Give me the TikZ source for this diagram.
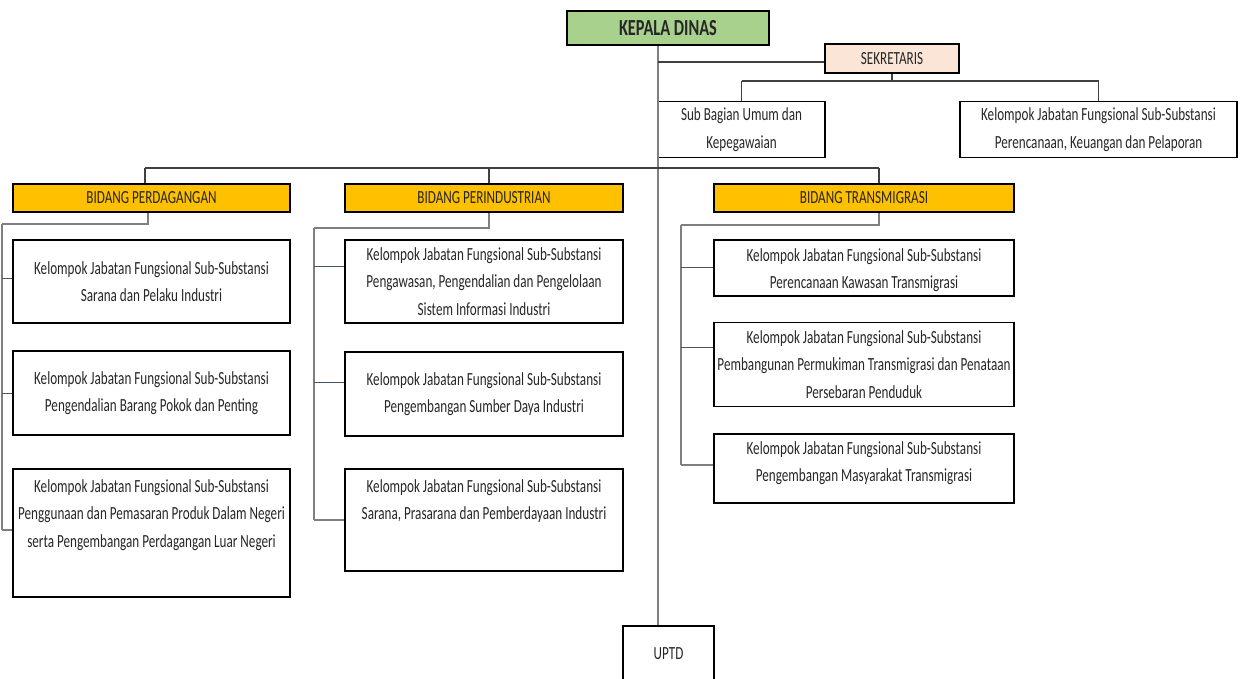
\documentclass[tikz,border=0pt]{standalone}
\usepackage{fontspec}
\setmainfont{Carlito}[FakeStretch=0.71]
\definecolor{kdgreen}{HTML}{A9D18E}
\definecolor{sekpeach}{HTML}{FBE5D6}
\definecolor{bidgold}{HTML}{FFC000}
\definecolor{txtgray}{HTML}{262626}
\definecolor{linegray}{HTML}{7F7F7F}
\definecolor{busgray}{HTML}{404040}
\definecolor{stubblue}{HTML}{44546A}
\newcommand{\fsz}{\fontsize{18.5}{27.5}\selectfont}
\begin{document}
\begin{tikzpicture}[x=1pt,y=-1pt,
  box/.style={draw=black, line width=1.8pt, inner sep=0pt, align=center, font=\fsz, text=txtgray},
  txt/.style={inner sep=0pt, align=center, font=\fsz, text=txtgray},
  bid/.style={box, fill=bidgold, minimum height=28pt},
  conn/.style={draw=linegray, line width=1.3pt},
  bus/.style={draw=busgray, line width=1.3pt},
  stub/.style={draw=stubblue, line width=1pt}]
\useasboundingbox (0,0) rectangle (1240,679);

% top
\node[box, fill=kdgreen, minimum width=202pt, minimum height=34pt,
      font=\fontsize{23}{26}\selectfont\bfseries] (kd) at (668,28) {KEPALA DINAS};
\node[box, fill=sekpeach, minimum width=134pt, minimum height=29pt] (sek) at (892,58.5) {SEKRETARIS};
\node[box, minimum width=167pt, minimum height=56pt] (sb) at (741.5,129.5) {Sub Bagian Umum dan\\Kepegawaian};
\node[box, minimum width=277pt, minimum height=56pt] (kr) at (1098.5,129.5) {Kelompok Jabatan Fungsional Sub-Substansi\\Perencanaan, Keuangan dan Pelaporan};

% bidang
\node[bid, minimum width=277pt] (bp) at (151.5,198) {BIDANG PERDAGANGAN};
\node[bid, minimum width=278pt] (bi) at (484,198) {BIDANG PERINDUSTRIAN};
\node[bid, minimum width=300pt] (bt) at (864,198) {BIDANG TRANSMIGRASI};

% perdagangan
\node[box, minimum width=277pt, minimum height=83pt] (p1) at (151.5,281.5) {Kelompok Jabatan Fungsional Sub-Substansi\\Sarana dan Pelaku Industri};
\node[box, minimum width=277pt, minimum height=84pt] (p2) at (151.5,393) {Kelompok Jabatan Fungsional Sub-Substansi\\Pengendalian Barang Pokok dan Penting};
\node[box, minimum width=277pt, minimum height=128pt] (p3) at (151.5,533) {};
\node[txt, anchor=north] (p3t) at ([yshift=-11pt]p3.north) {Kelompok Jabatan Fungsional Sub-Substansi\\Penggunaan dan Pemasaran Produk Dalam Negeri\\serta Pengembangan Perdagangan Luar Negeri};

% perindustrian
\node[box, minimum width=278pt, minimum height=83pt] (i1) at (484,281.5) {Kelompok Jabatan Fungsional Sub-Substansi\\Pengawasan, Pengendalian dan Pengelolaan\\Sistem Informasi Industri};
\node[box, minimum width=278pt, minimum height=84pt] (i2) at (484,394) {Kelompok Jabatan Fungsional Sub-Substansi\\Pengembangan Sumber Daya Industri};
\node[box, minimum width=278pt, minimum height=102pt] (i3) at (484,520) {};
\node[txt, anchor=north] (i3t) at ([yshift=-11pt]i3.north) {Kelompok Jabatan Fungsional Sub-Substansi\\Sarana, Prasarana dan Pemberdayaan Industri};

% transmigrasi
\node[box, minimum width=300pt, minimum height=56pt] (t1) at (864,268) {};
\node[txt, anchor=north] (t1t) at ([yshift=-9pt]t1.north) {Kelompok Jabatan Fungsional Sub-Substansi\\Perencanaan Kawasan Transmigrasi};
\node[box, minimum width=300pt, minimum height=84pt] (t2) at (864,364.5) {Kelompok Jabatan Fungsional Sub-Substansi\\Pembangunan Permukiman Transmigrasi dan Penataan\\Persebaran Penduduk};
\node[box, minimum width=300pt, minimum height=69pt] (t3) at (864,468.5) {};
\node[txt, anchor=north] (t3t) at ([yshift=-8pt]t3.north) {Kelompok Jabatan Fungsional Sub-Substansi\\Pengembangan Masyarakat Transmigrasi};

% UPTD
\node[box, minimum width=91pt, minimum height=56pt] (up) at (668.5,654) {UPTD};

% coordinates
\coordinate (mtop) at ([xshift=-10pt]kd.south);
\coordinate (mbot) at ([xshift=-10.5pt]up.north);
\coordinate (msek) at (658,62);
\coordinate (sekj) at (889,81);
\coordinate (busL) at (145,168);
\coordinate (busR) at (879,168);
\coordinate (pdj) at (2,224);
\coordinate (inj) at (314,228);
\coordinate (trj) at (681,225);

% main spine
\draw[conn] (mtop) -- (mbot);
\draw[bus] (msek) -- (msek -| sek.west);
\draw[bus] (sek.south) |- (sekj);
\draw[bus] (sekj -| sb.north) -| (kr.north);
\draw[bus] (sekj -| sb.north) -- (sb.north);

% bus to bidang
\draw[bus] (busL) -- (busR);
\draw[bus] (busL) -- (busL |- bp.north);
\draw[bus] ([xshift=5pt]bi.north |- busL) -- ([xshift=5pt]bi.north);
\draw[bus] (busR) -- (busR |- bt.north);

% perdagangan tree
\draw[conn] ([xshift=-3.5pt]bp.south) |- (pdj);
\draw[conn] (pdj) -- ([yshift=3pt]pdj |- p3.west);
\draw[stub] ([yshift=3pt]pdj |- p1.west) -- ([yshift=3pt]p1.west);
\draw[stub] (pdj |- p2.west) -- (p2.west);
\draw[conn] ([yshift=3pt]pdj |- p3.west) -- ([yshift=3pt]p3.west);

% perindustrian tree
\draw[conn] ([xshift=5pt]bi.south) |- (inj);
\draw[conn] (inj) -- (inj |- i3.west);
\draw[stub] ([yshift=14.5pt]inj |- i1.west) -- ([yshift=14.5pt]i1.west);
\draw[stub] ([yshift=12pt]inj |- i2.west) -- ([yshift=12pt]i2.west);
\draw[conn] (inj |- i3.west) -- (i3.west);

% transmigrasi tree
\draw[conn] ([xshift=15pt]bt.south) |- (trj);
\draw[conn] (trj) -- ([yshift=3.5pt]trj |- t3.west);
\draw[stub] (trj |- t1.west) -- (t1.west);
\draw[stub] ([yshift=17pt]trj |- t2.west) -- ([yshift=17pt]t2.west);
\draw[conn] ([yshift=3.5pt]trj |- t3.west) -- ([yshift=3.5pt]t3.west);
\end{tikzpicture}
\end{document}
